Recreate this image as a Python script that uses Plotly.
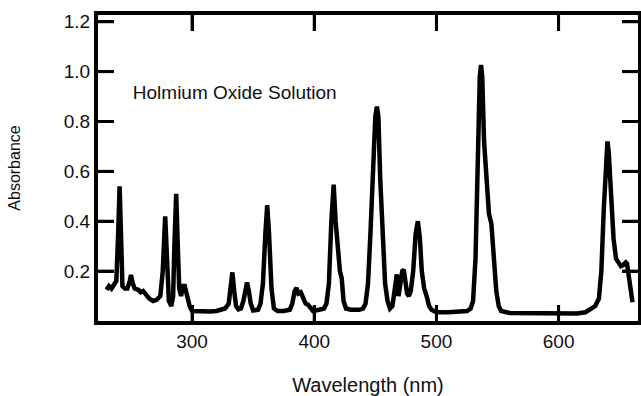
import plotly.graph_objects as go

wavelength = [
    230, 232, 234, 236, 238, 239.5, 240.7, 241.8, 243, 245, 247, 249, 250, 251.5, 253,
    256, 258, 260, 262, 265, 268, 271, 274, 276, 278, 279.5, 281, 283, 284.5, 285.5,
    287, 288.3, 289.5, 291, 292.5, 294, 296, 298, 300, 305, 315, 320, 324, 327, 330,
    331.5, 333, 334.5, 336, 338, 340, 342, 343.5, 345, 346.5, 348, 350, 354, 356, 358,
    360, 361.5, 363, 365, 367, 370, 375, 380, 382, 384, 385.5, 387, 389, 391, 393,
    395, 397, 399, 404, 408, 410, 412, 414, 415.9, 417.5, 419.5, 421, 422.5, 424, 426,
    430, 437, 440, 442, 444, 446, 448, 450, 451.3, 452.5, 454, 456, 458, 460, 462,
    464, 466, 467.6, 469, 470.5, 472, 473.3, 474.5, 476, 477.5, 479, 481, 483, 484.8, 486.5,
    488, 490, 492, 494, 496, 500, 510, 520, 525, 528, 530, 532, 534, 535.5, 536.5,
    537.5, 539, 541, 543, 545, 547, 549, 551, 553, 560, 580, 600, 615, 622, 626,
    630, 633, 635, 637, 639, 640, 641, 643, 645, 647, 649, 651, 653, 655, 656,
    658, 660.5,
]
absorbance = [
    0.125, 0.14, 0.13, 0.145, 0.16, 0.35, 0.54, 0.35, 0.14, 0.13, 0.13, 0.16, 0.185, 0.15, 0.13,
    0.125, 0.115, 0.12, 0.105, 0.09, 0.08, 0.085, 0.1, 0.2, 0.42, 0.2, 0.08, 0.06, 0.1, 0.3,
    0.51, 0.3, 0.13, 0.1, 0.14, 0.14, 0.1, 0.06, 0.04, 0.038, 0.038, 0.04, 0.045, 0.05, 0.07,
    0.13, 0.195, 0.12, 0.06, 0.047, 0.05, 0.08, 0.13, 0.155, 0.12, 0.07, 0.042, 0.045, 0.07, 0.15,
    0.35, 0.465, 0.35, 0.13, 0.05, 0.04, 0.04, 0.045, 0.07, 0.12, 0.133, 0.11, 0.115, 0.09, 0.07,
    0.065, 0.05, 0.04, 0.045, 0.05, 0.07, 0.15, 0.4, 0.547, 0.4, 0.25, 0.2, 0.17, 0.08, 0.05,
    0.045, 0.045, 0.05, 0.07, 0.15, 0.35, 0.58, 0.82, 0.86, 0.82, 0.57, 0.3, 0.15, 0.08, 0.05,
    0.06, 0.13, 0.187, 0.1, 0.15, 0.2, 0.205, 0.17, 0.11, 0.1, 0.12, 0.2, 0.35, 0.4, 0.33,
    0.2, 0.13, 0.1, 0.06, 0.045, 0.035, 0.035, 0.037, 0.04, 0.05, 0.08, 0.25, 0.7, 0.98, 1.027,
    0.98, 0.72, 0.55, 0.43, 0.39, 0.25, 0.12, 0.06, 0.04, 0.032, 0.03, 0.03, 0.03, 0.035, 0.045,
    0.06, 0.09, 0.2, 0.45, 0.68, 0.72, 0.68, 0.5, 0.33, 0.25, 0.23, 0.22, 0.225, 0.235, 0.23,
    0.15, 0.075,
]

x_ticks = [300, 400, 500, 600]
y_ticks = [0.2, 0.4, 0.6, 0.8, 1.0, 1.2]
y_tick_text = ["0.2", "0.4", "0.6", "0.8", "1.0", "1.2"]

label_text = "Holmium Oxide Solution"
label_x = 251.5
label_y = 0.911

X_RANGE = [223, 665]
Y_RANGE = [0, 1.227]

FONT = "Liberation Sans, Arial, sans-serif"

fig = go.Figure()
fig.add_trace(go.Scatter(
    x=wavelength, y=absorbance, mode="lines",
    line=dict(color="black", width=4.5),
    hoverinfo="skip", showlegend=False,
))
fig.add_trace(go.Scatter(
    x=[label_x], y=[label_y], mode="text", text=[label_text],
    textposition="middle right",
    textfont=dict(family=FONT, size=19, color="#111"),
    hoverinfo="skip", showlegend=False,
))

base = dict(ticks="inside", ticklen=16, tickwidth=3, tickcolor="black",
            showline=True, linecolor="black", linewidth=4, mirror="allticks",
            automargin=False,
            tickfont=dict(family=FONT, size=19, color="#111"))

# inward tick marks on all four sides, placed at the axis tick values
TICK_LEN = 16
tick_line = dict(color="black", width=3)
tick_shapes = []
for t in x_ticks:
    tick_shapes.append(dict(type="line", xref="x", yref="paper", x0=t, x1=t,
                            ysizemode="pixel", yanchor=0, y0=0, y1=TICK_LEN, line=tick_line))
    tick_shapes.append(dict(type="line", xref="x", yref="paper", x0=t, x1=t,
                            ysizemode="pixel", yanchor=1, y0=0, y1=-TICK_LEN, line=tick_line))
for t in y_ticks:
    tick_shapes.append(dict(type="line", xref="paper", yref="y", y0=t, y1=t,
                            xsizemode="pixel", xanchor=0, x0=0, x1=TICK_LEN, line=tick_line))
    tick_shapes.append(dict(type="line", xref="paper", yref="y", y0=t, y1=t,
                            xsizemode="pixel", xanchor=1, x0=0, x1=-TICK_LEN, line=tick_line))

fig.update_layout(
    width=641, height=396,
    margin=dict(l=98, r=3, t=15, b=75),
    paper_bgcolor="white", plot_bgcolor="white",
    xaxis=dict(range=X_RANGE, tickvals=x_ticks, showgrid=False,
               title=dict(text="Wavelength (nm)", standoff=30,
                          font=dict(family=FONT, size=20, color="#111")),
               **base),
    yaxis=dict(range=Y_RANGE, tickvals=y_ticks, ticktext=y_tick_text,
               showgrid=False, zeroline=False,
               title=dict(text="Absorbance", standoff=40,
                          font=dict(family=FONT, size=16, color="#111")),
               **base),
    shapes=tick_shapes,
)

fig.write_html("out.html")
